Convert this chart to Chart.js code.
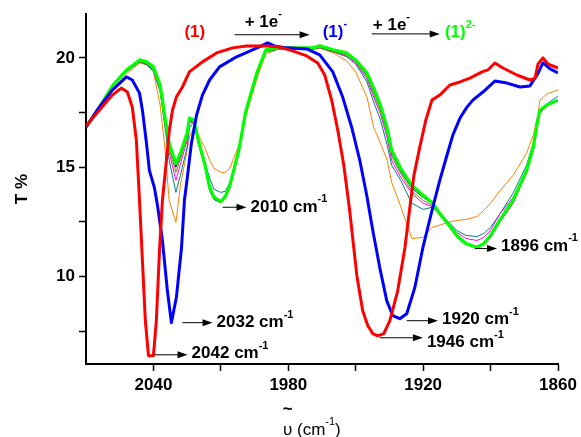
<!DOCTYPE html>
<html>
<head>
<meta charset="utf-8">
<title>IR spectra of (1), (1)- and (1)2-</title>
<script src="https://cdn.jsdelivr.net/npm/chart.js@4.4.0/dist/chart.umd.min.js"></script>
<style>
  body { margin: 0; background: #fff; }
  canvas { display: block; }
</style>
</head>
<body>
<canvas id="spectra" width="581" height="437"></canvas>
<script>
// ============================================
// Spectra (wavenumber in cm-1, transmittance in %)
// ============================================

// (1) - neutral complex
const redWn = [2070, 2064.1, 2058.3, 2054.3, 2051.6, 2049.4, 2047.6, 2046.2, 2044.9, 2043.6, 2042.2, 2040, 2038.7, 2037.3, 2036.0, 2034.2, 2032.9, 2031.5, 2029.8, 2027.1, 2024.0, 2018.2, 2011.9, 2004.8, 1998.6, 1989.6, 1983.9, 1978.1, 1971.8, 1966.9, 1963.8, 1960.7, 1958.0, 1955.3, 1952.7, 1949.5, 1946.9, 1944.6, 1942.4, 1940.2, 1937.5, 1934.8, 1931.3, 1928.1, 1925.9, 1924.1, 1921.5, 1918.8, 1916.1, 1912.6, 1908.1, 1903.6, 1899.2, 1893.8, 1891.2, 1888.1, 1884.5, 1878.3, 1872.5, 1870.2, 1868.9, 1866.7, 1864.4, 1860];
const redT = [16.88, 17.61, 18.30, 18.62, 18.44, 17.75, 16.24, 13.49, 10.73, 7.98, 6.38, 6.38, 7.98, 11.19, 13.49, 15.32, 16.70, 17.61, 18.21, 18.67, 19.36, 19.82, 20.23, 20.46, 20.55, 20.55, 20.50, 20.32, 20.09, 19.77, 19.22, 18.07, 16.70, 15.09, 13.03, 10.05, 8.44, 7.75, 7.39, 7.29, 7.39, 7.98, 9.36, 11.33, 13.17, 14.63, 15.92, 17.16, 18.07, 18.30, 18.76, 18.90, 19.08, 19.36, 19.45, 19.77, 19.54, 19.22, 18.99, 19.08, 19.72, 20.0, 19.72, 19.54];

// (1)- - after the first electron
const blueWn = [2070, 2064.1, 2058.3, 2052.0, 2049.4, 2046.2, 2044.9, 2043.1, 2041.8, 2039.6, 2038.2, 2036.0, 2033.8, 2032.0, 2029.8, 2027.5, 2026.2, 2024.8, 2023.1, 2020.8, 2018.2, 2015.0, 2010.6, 2003.0, 1995.9, 1991.9, 1989.2, 1986.1, 1980.7, 1971.8, 1966.0, 1960.2, 1955.8, 1951.8, 1948.2, 1945.1, 1942.4, 1939.3, 1936.2, 1933.5, 1930.4, 1927.3, 1923.7, 1920.1, 1915.7, 1912.6, 1909.4, 1906.8, 1903.6, 1900.5, 1897.9, 1893.4, 1888.1, 1882.7, 1876.9, 1872.5, 1869.3, 1866.7, 1863.5, 1860];
const blueT = [16.83, 17.75, 18.53, 19.13, 18.99, 18.39, 17.61, 16.10, 14.86, 14.08, 13.26, 11.65, 9.36, 7.89, 9.04, 11.33, 13.49, 14.63, 16.10, 17.39, 18.30, 18.99, 19.59, 20.05, 20.37, 20.55, 20.69, 20.55, 20.46, 20.41, 20.14, 19.36, 18.21, 16.83, 15.32, 13.72, 12.11, 10.41, 8.90, 8.21, 8.07, 8.30, 9.50, 11.33, 13.17, 14.40, 15.55, 16.47, 17.25, 17.75, 18.07, 18.44, 18.94, 18.85, 18.67, 18.72, 19.22, 19.77, 19.50, 19.31];

// second reduction: intermediate scans and (1)2- share one wavenumber grid
const reductionWn = [2070, 2064, 2058, 2052, 2046, 2043, 2040, 2037, 2035, 2033, 2030, 2028, 2025, 2024, 2022, 2020, 2017, 2015, 2013, 2010, 2008, 2006, 2002, 1999, 1994, 1990, 1984, 1976, 1969, 1966, 1960, 1954, 1950, 1945, 1942, 1939, 1936, 1934, 1930, 1925, 1920, 1916, 1913, 1909, 1905, 1901, 1896, 1893, 1890, 1886, 1880, 1874, 1871, 1869, 1868, 1865, 1860];
const greenT = [16.83, 17.75, 18.76, 19.45, 19.91, 19.82, 19.59, 18.76, 17.39, 16.10, 15.18, 15.64, 16.56, 17.25, 17.16, 16.24, 15.09, 14.08, 13.62, 13.44, 13.67, 14.17, 15.78, 17.52, 19.31, 20.37, 20.46, 20.46, 20.46, 20.55, 20.37, 20.23, 19.91, 19.31, 18.62, 17.84, 16.79, 15.78, 14.95, 14.17, 13.72, 13.39, 12.94, 12.43, 11.88, 11.51, 11.33, 11.51, 11.88, 12.57, 13.49, 14.86, 15.92, 17.16, 17.61, 17.84, 18.07];
const navyT = [16.83, 17.75, 18.72, 19.40, 19.86, 19.77, 19.54, 18.72, 17.34, 16.01, 15.00, 15.50, 16.47, 17.16, 17.11, 16.15, 15.00, 13.99, 13.53, 13.39, 13.62, 14.13, 15.73, 17.48, 19.27, 20.32, 20.41, 20.41, 20.41, 20.50, 20.32, 20.18, 19.86, 19.22, 18.49, 17.71, 16.65, 15.64, 14.82, 14.04, 13.62, 13.35, 12.89, 12.39, 11.83, 11.47, 11.33, 11.47, 11.79, 12.48, 13.39, 14.77, 15.83, 17.06, 17.52, 17.80, 18.07];
const oliveT = [16.83, 17.75, 18.72, 19.40, 19.82, 19.72, 19.50, 18.62, 17.25, 15.87, 14.77, 15.37, 16.38, 17.11, 17.06, 16.10, 14.95, 13.94, 13.53, 13.39, 13.62, 14.08, 15.69, 17.43, 19.22, 20.28, 20.41, 20.41, 20.41, 20.46, 20.28, 20.14, 19.82, 19.13, 18.35, 17.57, 16.51, 15.50, 14.72, 13.90, 13.49, 13.26, 12.84, 12.34, 11.79, 11.47, 11.38, 11.51, 11.83, 12.48, 13.35, 14.72, 15.78, 17.02, 17.52, 17.80, 18.07];
const magentaT = [16.83, 17.75, 18.72, 19.40, 19.82, 19.72, 19.45, 18.58, 17.16, 15.69, 14.40, 15.14, 16.24, 17.06, 17.02, 16.06, 14.95, 13.94, 13.53, 13.39, 13.58, 14.04, 15.64, 17.43, 19.22, 20.28, 20.41, 20.41, 20.41, 20.46, 20.28, 20.09, 19.77, 19.04, 18.21, 17.43, 16.33, 15.32, 14.54, 13.81, 13.35, 13.21, 12.89, 12.48, 12.02, 11.74, 11.65, 11.79, 12.11, 12.84, 13.62, 14.86, 15.87, 17.02, 17.48, 17.80, 18.03];
const tealT = [16.83, 17.75, 18.72, 19.36, 19.82, 19.68, 19.40, 18.44, 16.93, 15.32, 13.85, 14.63, 15.92, 16.79, 17.11, 16.10, 15.18, 14.50, 13.99, 13.85, 13.90, 14.31, 15.69, 17.39, 19.17, 20.28, 20.41, 20.41, 20.41, 20.46, 20.28, 20.05, 19.72, 18.90, 17.98, 17.16, 16.01, 15.09, 14.40, 13.35, 13.07, 13.17, 12.94, 12.52, 12.11, 11.88, 11.83, 11.97, 12.25, 12.84, 13.81, 15.09, 16.10, 17.06, 17.52, 17.89, 18.26];
const orangeT = [16.83, 17.71, 18.62, 19.27, 19.77, 19.68, 19.36, 17.84, 16.01, 13.49, 12.48, 14.17, 15.78, 16.38, 16.83, 16.47, 15.87, 15.32, 14.95, 14.77, 14.77, 14.95, 16.01, 17.29, 19.04, 20.18, 20.41, 20.41, 20.41, 20.46, 20.23, 19.86, 19.36, 18.21, 16.83, 16.10, 15.32, 14.31, 13.21, 11.74, 11.79, 12.25, 12.34, 12.48, 12.57, 12.61, 12.75, 13.03, 13.35, 13.90, 14.63, 15.64, 16.47, 17.39, 18.07, 18.35, 18.53];

// axis tick values
const xMajorTicks = [2040, 1980, 1920, 1860];
const yMajorTicks = [10, 15, 20];

// ============================================
// Annotations (arrows and labels, in axis units)
// ============================================

const peakNotes = [
    { label: '2042', from: 2039.6, to: 2024.8, arrowT: 6.42, textT: 6.47 },
    { label: '2032', from: 2027.1, to: 2013.7, arrowT: 7.89, textT: 7.89 },
    { label: '2010', from: 2009.2, to: 1998.6, arrowT: 13.17, textT: 13.17 },
    { label: '1946', from: 1939.3, to: 1920.1, arrowT: 7.20, textT: 6.97 },
    { label: '1920', from: 1927.3, to: 1913.4, arrowT: 7.98, textT: 8.03 },
    { label: '1896', from: 1897.0, to: 1887.1, arrowT: 11.28, textT: 11.38 }
];

const stepNotes = [
    { parts: [{ t: '(1)' }], wn: 2026.2, t: 21.19, color: '#ff0000' },
    { parts: [{ t: '+ 1e' }, { t: '-', sup: true }], wn: 1999.4, t: 21.65, color: '#000000' },
    { parts: [{ t: '(1)' }, { t: '-', sup: true }], wn: 1964.7, t: 21.19, color: '#0000ff' },
    { parts: [{ t: '+ 1e' }, { t: '-', sup: true }], wn: 1942.4, t: 21.51, color: '#000000' },
    { parts: [{ t: '(1)' }, { t: '2-', sup: true }], wn: 1910.3, t: 21.15, color: '#00ff00' }
];

const stepArrows = [
    { from: 2003.9, to: 1970.5, t: 21.06 },
    { from: 1942.9, to: 1912.6, t: 21.10 }
];

const FONT = '"Liberation Sans", Arial, sans-serif';

// ============================================
// Drawing helpers
// ============================================

function toPoints(wn, values) {
    return wn.map((x, i) => ({ x: x, y: values[i] }));
}

// Draws text made of normal and superscript pieces, left aligned at x
function richText(ctx, parts, x, y, color, weight) {
    ctx.fillStyle = color;
    ctx.textAlign = 'left';
    ctx.textBaseline = 'middle';
    let cx = x;
    parts.forEach(p => {
        const size = p.sup ? 11 : 17;
        ctx.font = `${weight || 'bold'} ${size}px ${FONT}`;
        ctx.fillText(p.t, cx, p.sup ? y - 8 : y);
        cx += ctx.measureText(p.t).width;
    });
    return cx;
}

// Horizontal arrow pointing right
function arrow(ctx, x0, x1, y) {
    ctx.strokeStyle = '#000';
    ctx.fillStyle = '#000';
    ctx.lineWidth = 1;
    ctx.beginPath();
    ctx.moveTo(x0, y);
    ctx.lineTo(x1 - 6, y);
    ctx.stroke();
    ctx.beginPath();
    ctx.moveTo(x1, y);
    ctx.lineTo(x1 - 10, y - 3.5);
    ctx.lineTo(x1 - 10, y + 3.5);
    ctx.closePath();
    ctx.fill();
}

const labelsPlugin = {
    id: 'spectraLabels',
    afterDraw(chart) {
        const { ctx, chartArea } = chart;
        const xs = chart.scales.x;
        const ys = chart.scales.y;
        ctx.save();

        // peak positions
        peakNotes.forEach(n => {
            const x1 = xs.getPixelForValue(n.to);
            arrow(ctx, xs.getPixelForValue(n.from), x1, ys.getPixelForValue(n.arrowT));
            richText(ctx, [{ t: n.label + ' cm' }, { t: '-1', sup: true }], x1 + 4, ys.getPixelForValue(n.textT), '#000');
        });

        // reduction steps along the top
        stepArrows.forEach(a => {
            arrow(ctx, xs.getPixelForValue(a.from), xs.getPixelForValue(a.to), ys.getPixelForValue(a.t));
        });
        stepNotes.forEach(n => {
            richText(ctx, n.parts, xs.getPixelForValue(n.wn), ys.getPixelForValue(n.t), n.color);
        });

        // x axis title with the tilde over the upsilon
        const tx = (chartArea.left + chartArea.right) / 2 - 39;
        const ty = chartArea.bottom + 66;
        ctx.font = `17px ${FONT}`;
        const upsWidth = ctx.measureText('υ').width;
        richText(ctx, [{ t: 'υ (cm' }, { t: '-1', sup: true }, { t: ')' }], tx, ty, '#000', 'normal');
        ctx.font = `bold 17px ${FONT}`;
        ctx.textAlign = 'center';
        ctx.fillText('~', tx + upsWidth / 2, ty - 21);

        ctx.restore();
    }
};

// ============================================
// Chart
// ============================================

function series(data, color, width) {
    return {
        data: data,
        borderColor: color,
        borderWidth: width,
        pointRadius: 0,
        tension: 0,
        fill: false,
        borderJoinStyle: 'round'
    };
}

const canvas = document.getElementById('spectra');

new Chart(canvas.getContext('2d'), {
    type: 'line',
    data: {
        datasets: [
            series(toPoints(redWn, redT), '#ff0000', 3),
            series(toPoints(blueWn, blueT), '#0000ff', 3),
            series(toPoints(reductionWn, greenT), '#00ff00', 3.2),
            series(toPoints(reductionWn, navyT), '#000080', 1),
            series(toPoints(reductionWn, oliveT), '#808000', 1),
            series(toPoints(reductionWn, magentaT), '#ff00ff', 1),
            series(toPoints(reductionWn, tealT), '#008080', 1),
            series(toPoints(reductionWn, orangeT), '#ff8000', 1)
        ]
    },
    options: {
        responsive: false,
        animation: false,
        layout: { padding: { left: 0, top: 14, right: 23, bottom: 0 } },
        plugins: {
            legend: { display: false },
            tooltip: { enabled: false }
        },
        scales: {
            x: {
                type: 'linear',
                reverse: true,
                min: 1860,
                max: 2070,
                afterBuildTicks: axis => {
                    axis.ticks = axis.ticks.filter(t => t.value !== 2070);
                },
                afterFit: scale => { scale.height = 73; },
                ticks: {
                    stepSize: 30,
                    autoSkip: false,
                    maxRotation: 0,
                    padding: 4,
                    color: '#000',
                    font: { family: FONT, size: 17, weight: 'bold' },
                    callback: v => xMajorTicks.includes(v) ? String(v) : ''
                },
                grid: { drawOnChartArea: false, drawTicks: true, tickLength: 7, tickColor: '#000', tickWidth: 1.5 },
                border: { display: true, color: '#000', width: 2 }
            },
            y: {
                min: 6,
                max: 22,
                afterFit: scale => { scale.width = 86; },
                ticks: {
                    stepSize: 2.5,
                    includeBounds: false,
                    padding: 4,
                    color: '#000',
                    font: { family: FONT, size: 17, weight: 'bold' },
                    callback: v => yMajorTicks.includes(v) ? String(v) : ''
                },
                grid: { drawOnChartArea: false, drawTicks: true, tickLength: 7, tickColor: '#000', tickWidth: 1.5 },
                border: { display: true, color: '#000', width: 2 },
                title: {
                    display: true,
                    text: 'T %',
                    color: '#000',
                    font: { family: FONT, size: 17, weight: 'bold' },
                    padding: { top: 12, bottom: 0 }
                }
            }
        }
    },
    plugins: [labelsPlugin]
});
</script>
</body>
</html>
